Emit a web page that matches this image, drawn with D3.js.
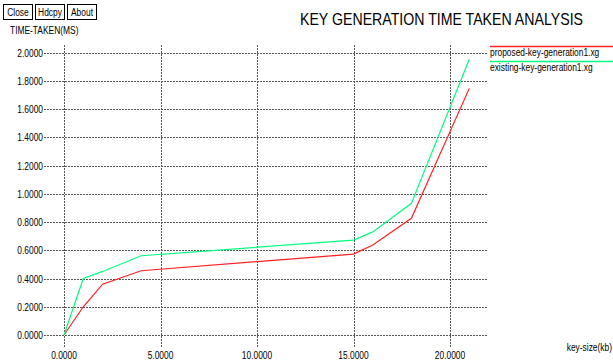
<!DOCTYPE html>
<html>
<head>
<meta charset="utf-8">
<script src="https://cdn.jsdelivr.net/npm/d3@7"></script>
<style>
body{margin:0;background:#fff;}
svg text{font-family:"Liberation Sans",Arial,sans-serif;}
</style>
</head>
<body>
<div id="Canvas"></div>
<script>
// data
let keySizes = [0, 1, 2, 4, 15, 16, 18, 21]
let proposedTime = [0, 0.20, 0.36, 0.455, 0.573, 0.637, 0.826, 1.746]
let existingTime = [0, 0.40, 0.45, 0.561, 0.672, 0.73, 0.932, 1.952]
let xTicks = [0, 5, 10, 15, 20]
let yTicks = [0, 0.2, 0.4, 0.6, 0.8, 1.0, 1.2, 1.4, 1.6, 1.8, 2.0]
let seriesNames = ["proposed-key-generation1.xg", "existing-key-generation1.xg"]
let seriesColors = ["#ff2020", "#00ff7f"]
let buttons = ["Close", "Hdcpy", "About"]

let svg = d3.select("#Canvas")
    .append("svg")
    .attr('width', 613)
    .attr('height', 360)

let xScale = d3.scaleLinear()
    .domain([0, 20])
    .range([64, 450])
let yScale = d3.scaleLinear()
    .domain([0, 2])
    .range([335, 52.5])

//plot area box for grid lines
let gLeft = 44, gRight = 488, gTop = 45, gBottom = 348

//字體太寬  壓窄一點
function narrow(sel, ratio) {
    sel.each(function () {
        let w = this.getComputedTextLength()
        d3.select(this).attr("textLength", w * ratio).attr("lengthAdjust", "spacingAndGlyphs")
    })
}

//按鈕
let bx = [3, 35, 67]
buttons.forEach((b, i) => {
    svg.append("rect")
        .attr("x", bx[i] + 0.5).attr("y", 4.5)
        .attr("width", 29).attr("height", 15)
        .attr("fill", "none").attr("stroke", "#000").attr("stroke-width", 1)
    svg.append("text")
        .attr("class", "small")
        .attr("x", bx[i] + 15).attr("y", 16)
        .attr("text-anchor", "middle")
        .style("font-size", "10px")
        .text(b)
})

svg.append("text")
    .attr("class", "small")
    .attr("x", 10).attr("y", 34)
    .style("font-size", "10px")
    .text("TIME-TAKEN(MS)")

svg.append("text")
    .attr("x", 300).attr("y", 25)
    .attr("textLength", 283)
    .attr("lengthAdjust", "spacingAndGlyphs")
    .style("font-size", "17px")
    .text("KEY GENERATION TIME TAKEN ANALYSIS")

//grid
svg.append("g").selectAll("line")
    .data(yTicks)
    .enter()
    .append("line")
    .attr("x1", gLeft).attr("x2", gRight)
    .attr("y1", d => Math.round(yScale(d)) + 0.5)
    .attr("y2", d => Math.round(yScale(d)) + 0.5)
    .attr("stroke", "#555").attr("stroke-width", 1)
    .attr("stroke-dasharray", "2,1")
svg.append("g").selectAll("line")
    .data(xTicks)
    .enter()
    .append("line")
    .attr("y1", gTop).attr("y2", gBottom)
    .attr("x1", d => Math.round(xScale(d)) + 0.5)
    .attr("x2", d => Math.round(xScale(d)) + 0.5)
    .attr("stroke", "#555").attr("stroke-width", 1)
    .attr("stroke-dasharray", "2,1")

//tick labels
svg.append("g").selectAll("text")
    .data(yTicks)
    .enter()
    .append("text")
    .attr("class", "small")
    .attr("x", 43)
    .attr("y", d => yScale(d) + 4)
    .attr("text-anchor", "end")
    .style("font-size", "10px")
    .text(d => d.toFixed(4))
svg.append("g").selectAll("text")
    .data(xTicks)
    .enter()
    .append("text")
    .attr("class", "small")
    .attr("x", d => xScale(d))
    .attr("y", 359)
    .attr("text-anchor", "middle")
    .style("font-size", "10px")
    .text(d => d.toFixed(4))

svg.append("text")
    .attr("class", "small")
    .attr("x", 612).attr("y", 351)
    .attr("text-anchor", "end")
    .style("font-size", "10px")
    .text("key-size(kb)")

//lines
let line = d3.line()
    .x(d => xScale(d[0]))
    .y(d => yScale(d[1]))
;[proposedTime, existingTime].forEach((vals, i) => {
    svg.append("path")
        .datum(keySizes.map((k, j) => [k, vals[j]]))
        .attr("d", line)
        .attr("fill", "none")
        .attr("stroke", seriesColors[i])
        .attr("stroke-width", 1.2)
})

//legend
seriesNames.forEach((n, i) => {
    let ly = 46 + i * 15
    svg.append("line")
        .attr("x1", 490).attr("x2", 613)
        .attr("y1", ly + 0.5).attr("y2", ly + 0.5)
        .attr("stroke", seriesColors[i]).attr("stroke-width", 1.5)
    svg.append("text")
        .attr("class", "small")
        .attr("x", 490).attr("y", ly + 10)
        .style("font-size", "10px")
        .text(n)
})

narrow(svg.selectAll("text.small"), 0.84)
</script>
</body>
</html>
